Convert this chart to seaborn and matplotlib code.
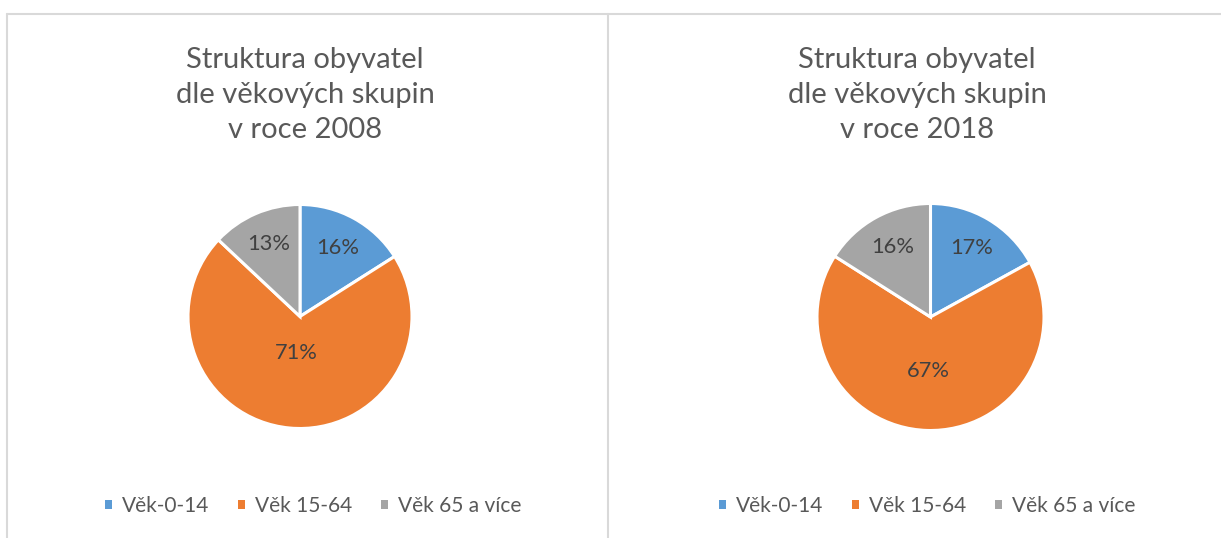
import numpy as np
import matplotlib
matplotlib.use("Agg")
import matplotlib.pyplot as plt
from matplotlib.patches import Patch
from matplotlib.lines import Line2D
import seaborn as sns

# ---- data ----
categories = ["Věk-0-14", "Věk 15-64", "Věk 65 a více"]
values_2008 = [16, 71, 13]
values_2018 = [17, 67, 16]
title_2008 = ["Struktura obyvatel", "dle věkových skupin", "v roce 2008"]
title_2018 = ["Struktura obyvatel", "dle věkových skupin", "v roce 2018"]

sns.set_theme(style="white")
palette = sns.color_palette(["#5B9BD5", "#ED7D31", "#A5A5A5"])
FONT = ["Lato", "DejaVu Sans"]
plt.rcParams["font.family"] = FONT

W, H, DPI = 1221, 538, 100
fig = plt.figure(figsize=(W / DPI, H / DPI), dpi=DPI)
fig.patch.set_facecolor("white")
renderer = fig.canvas.get_renderer()


def fit_size(text, target_px):
    t = fig.text(0, 0, text, fontsize=10)
    w = t.get_window_extent(renderer).width
    t.remove()
    return 10 * target_px / w


title_fs = fit_size("dle věkových skupin", 259)
legend_fs = fit_size("Věk-0-14", 88)
label_fs = fit_size("71%", 43)

TITLE_COL = "#595959"
LABEL_COL = "#404040"
BORDER = "#D9D9D9"

# panel borders
lw_b = 1.5
fig.add_artist(Line2D([7.5 / W, 1.0], [1 - 13.5 / H] * 2, color=BORDER, lw=lw_b, transform=fig.transFigure))
for xb in (7.5, 607.5):
    fig.add_artist(Line2D([xb / W] * 2, [0, 1 - 13.5 / H], color=BORDER, lw=lw_b, transform=fig.transFigure))

panels = [
    dict(values=values_2008, title=title_2008, cx=300, cy=316.5, r=112, tx=305,
         dists=[0.70, 0.33, 0.705], lx=313),
    dict(values=values_2018, title=title_2018, cx=930.5, cy=317, r=113.5, tx=917,
         dists=[0.705, 0.475, 0.70], lx=927),
]

fs_px_leg = legend_fs * DPI / 72
for p in panels:
    cx, cy, r = p["cx"], p["cy"], p["r"]
    ax = fig.add_axes([(cx - r) / W, 1 - (cy + r) / H, 2 * r / W, 2 * r / H])
    vals = p["values"]
    wedges, _ = ax.pie(vals, colors=palette, startangle=90, counterclock=False,
                       radius=1, wedgeprops=dict(edgecolor="white", linewidth=2.2))
    for w in wedges:
        w.set_clip_on(False)
    ax.set_xlim(-1, 1)
    ax.set_ylim(-1, 1)
    ax.set_aspect("equal")
    ax.axis("off")
    total = float(sum(vals))
    cum = 0.0
    for v, d in zip(vals, p["dists"]):
        mid = np.deg2rad(90 - 360 * (cum + v / 2) / total)
        cum += v
        ax.text(d * np.cos(mid), d * np.sin(mid), f"{v}%", ha="center", va="center",
                fontsize=label_fs, color=LABEL_COL)
    for i, line in enumerate(p["title"]):
        fig.text(p["tx"] / W, 1 - (68.3 + 35 * i) / H, line, ha="center", va="baseline",
                 fontsize=title_fs, color=TITLE_COL)
    handles = [Patch(facecolor=c, edgecolor="none") for c in palette]
    fig.legend(handles, categories, loc="center", bbox_to_anchor=(p["lx"] / W, 1 - 506 / H),
               ncol=3, frameon=False, fontsize=legend_fs, labelcolor=TITLE_COL,
               handlelength=7 / fs_px_leg, handleheight=7 / fs_px_leg,
               handletextpad=10 / fs_px_leg, columnspacing=29 / fs_px_leg,
               borderpad=0, borderaxespad=0)

fig.savefig("out.png", dpi=DPI, facecolor="white")
